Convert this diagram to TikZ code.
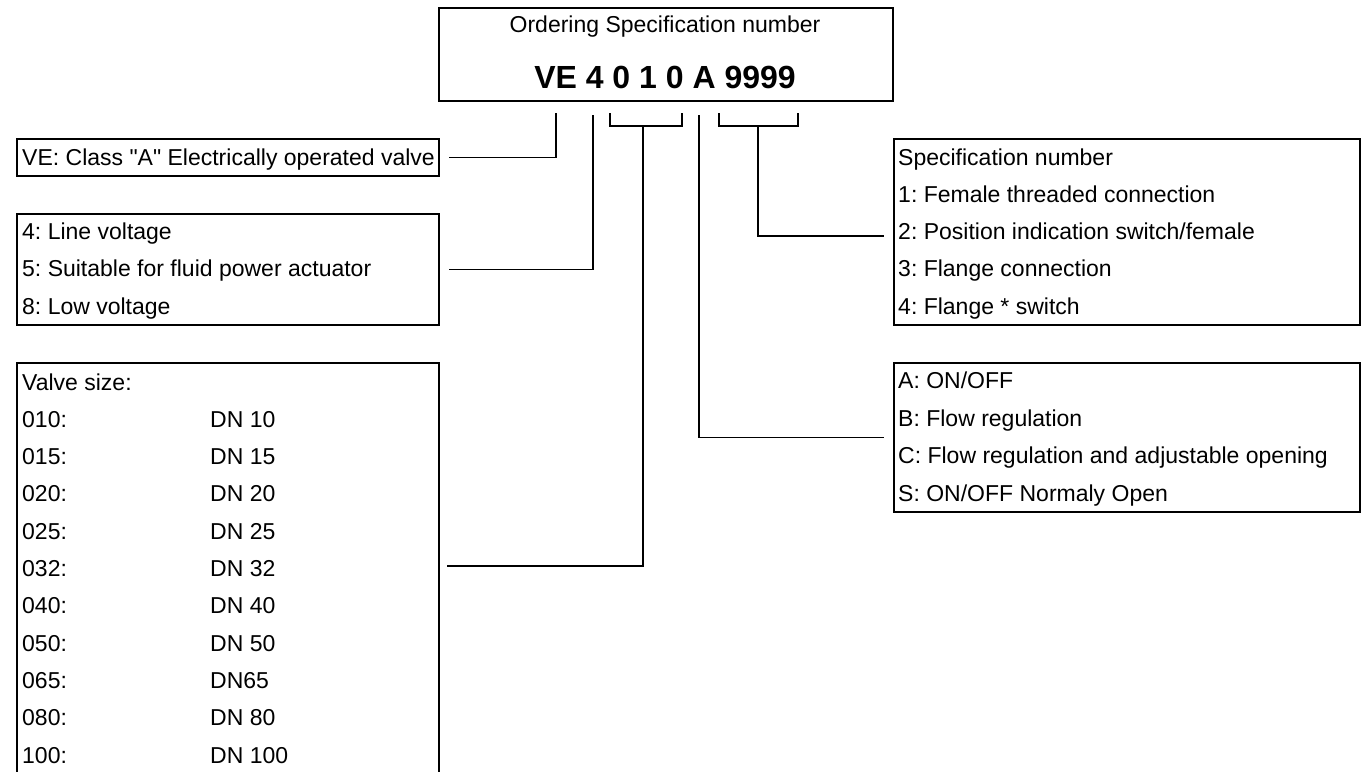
\documentclass[tikz,border=0pt]{standalone}
\usepackage{fontspec}
\setmainfont{Liberation Sans}
\usetikzlibrary{positioning}
\frenchspacing

\begin{document}
\begin{tikzpicture}[
x=1pt,y=-1pt,
frame/.style={draw,line width=1.8pt,inner sep=0pt,anchor=north west},
row/.style={anchor=base west,inner sep=0pt,font=\fontsize{23}{27}\selectfont},
link/.style={line width=1.8pt}
]
\useasboundingbox (0,0) rectangle (1364,771);
\clip (0,0) rectangle (1364,771);

% heading with the order code
\node[frame,line width=2.4pt,minimum width=454pt,minimum height=93pt] (head) at (438,7) {};
\node[inner sep=0pt,font=\fontsize{23}{27}\selectfont] (title) at (665,27) {Ordering Specification number};
\node[inner sep=0pt,font=\fontsize{32}{38}\selectfont\bfseries] (code) at (665,77) {VE 4 0 1 0 A 9999};

% left boxes
\node[frame,minimum width=422pt,minimum height=37pt] (ve) at (16,138) {};
\node[row] at (22,165) {VE: Class \textquotedbl A\textquotedbl{} Electrically operated valve};
\node[frame,minimum width=422pt,minimum height=111pt] (volt) at (16,213) {};
\node[row] at (22,239) {4: Line voltage};
\node[row] at (22,276) {5: Suitable for fluid power actuator};
\node[row] at (22,314) {8: Low voltage};
\node[frame,minimum width=422pt,minimum height=430pt] (valve) at (16,362) {};
\node[row] (vs0) at (22,390) {Valve size:};
\foreach \c/\d [count=\i] in {010/DN 10,015/DN 15,020/DN 20,025/DN 25,032/DN 32,
  040/DN 40,050/DN 50,065/DN65,080/DN 80,100/DN 100}{
  \node[row] (vs\i) at (22,{390+37.3*\i}) {\c:};
  \node[row] at (210,{390+37.3*\i}) {\d};
}

% right boxes
\node[frame,minimum width=466pt,minimum height=186pt] (spec) at (893,138) {};
\node[row] at (898,165) {Specification number};
\node[row] at (898,202) {1: Female threaded connection};
\node[row] at (898,239) {2: Position indication switch/female};
\node[row] at (898,276) {3: Flange connection};
\node[row] at (898,314) {4: Flange * switch};
\node[frame,minimum width=466pt,minimum height=149pt] (mode) at (893,362) {};
\node[row] at (898,388) {A: ON/OFF};
\node[row] at (898,426) {B: Flow regulation};
\node[row] at (898,463) {C: Flow regulation and adjustable opening};
\node[row] at (898,501) {S: ON/OFF Normaly Open};

% ticks and brackets under the code
\coordinate (tVE) at (556,113);
\coordinate (tV) at (593,115);
\coordinate (tA) at (699,115);
\draw[link] (610,113) |- (682,126) -- (682,113);
\draw[link] (719,113) |- (798,126) -- (798,113);
\coordinate (bS) at (643,126);
\coordinate (bN) at (758,126);
\coordinate (sizeIn) at (447,566);
\coordinate (specIn) at (884,236);

\draw[link] (tVE) |- ([xshift=9pt]ve.east);
\draw[link] (tV) |- ([xshift=9pt]volt.east);
\draw[link] (bS) |- (sizeIn);
\draw[link] (tA) |- ([xshift=-9pt]mode.west);
\draw[link] (bN) |- (specIn);
\end{tikzpicture}
\end{document}
